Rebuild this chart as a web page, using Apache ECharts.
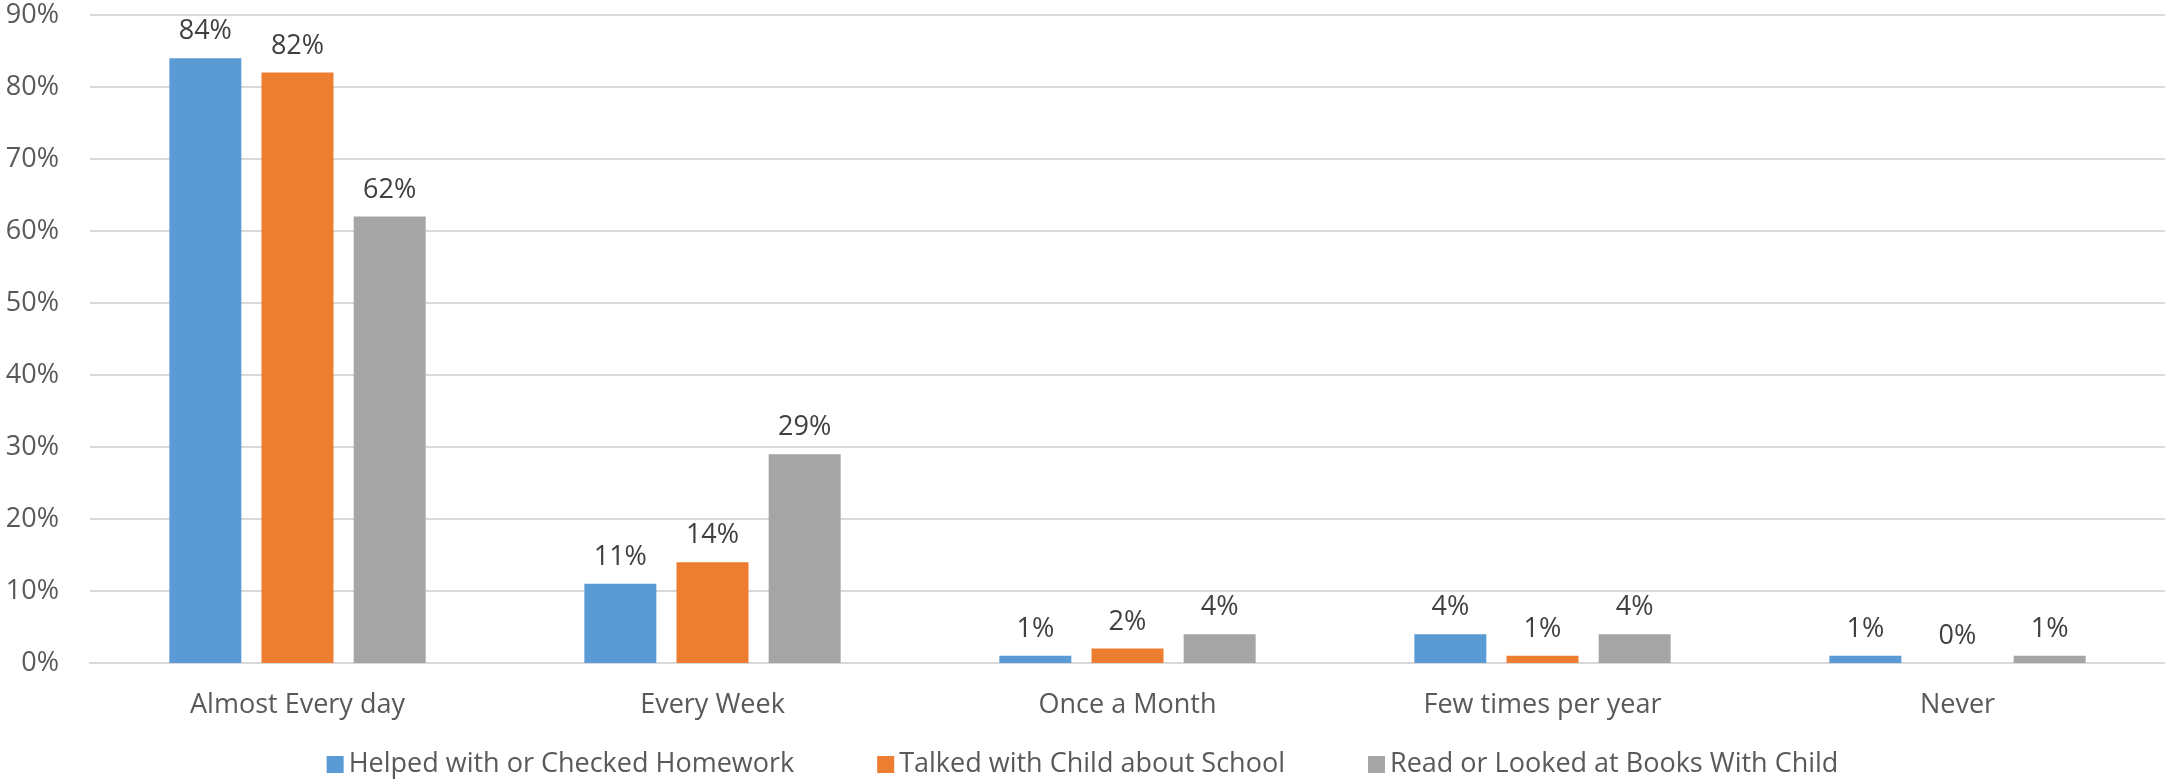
<!DOCTYPE html>
<html>
<head>
<meta charset="utf-8">
<script src="https://cdn.jsdelivr.net/npm/echarts@6/dist/echarts.min.js"></script>
<style>
  html, body { margin: 0; padding: 0; background: #fff; }
  #main { width: 2165px; height: 783px; }
</style>
</head>
<body>
<div id="main"></div>
<script>
"use strict";

// categories on the x axis
const categories = ['Almost Every day', 'Every Week', 'Once a Month', 'Few times per year', 'Never'];

// series names
const seriesNames = [
    'Helped with or Checked Homework',
    'Talked with Child about School',
    'Read or Looked at Books With Child'
];

// values in percent
const homework = [84, 11, 1, 4, 1];
const talked = [82, 14, 2, 1, 0];
const books = [62, 29, 4, 4, 1];

const colors = ['#5B9BD5', '#ED7D31', '#A5A5A5'];

const font = '"Open Sans", sans-serif';
const fontSize = 27;

const chart = echarts.init(document.getElementById('main'));

const makeSeries = (name, data, color) => ({
    name: name,
    type: 'bar',
    data: data,
    barWidth: 72,
    barGap: '28%',
    itemStyle: { color: color },
    label: {
        show: true,
        position: 'top',
        distance: 13,
        formatter: '{c}%',
        color: '#404040',
        fontFamily: font,
        fontSize: fontSize
    }
});

const option = {
    animation: false,
    grid: {
        left: 90,
        right: 0,
        top: 15,
        bottom: 120,
        containLabel: false
    },
    legend: {
        top: 746,
        left: 'center',
        itemWidth: 17,
        itemHeight: 17,
        itemGap: 83,
        icon: 'rect',
        textStyle: {
            color: '#595959',
            fontFamily: font,
            fontSize: fontSize
        },
        data: seriesNames
    },
    xAxis: {
        type: 'category',
        data: categories,
        axisLine: { show: true, lineStyle: { color: '#d9d9d9', width: 2 } },
        axisTick: { show: false },
        axisLabel: {
            color: '#595959',
            fontFamily: font,
            fontSize: fontSize,
            margin: 29
        }
    },
    yAxis: {
        type: 'value',
        min: 0,
        max: 90,
        interval: 10,
        axisLine: { show: false },
        axisTick: { show: false },
        splitLine: { lineStyle: { color: '#d9d9d9', width: 2 } },
        axisLabel: {
            color: '#595959',
            fontFamily: font,
            fontSize: fontSize,
            margin: 31,
            formatter: '{value}%'
        }
    },
    series: [
        makeSeries(seriesNames[0], homework, colors[0]),
        makeSeries(seriesNames[1], talked, colors[1]),
        makeSeries(seriesNames[2], books, colors[2])
    ]
};

chart.setOption(option);
</script>
</body>
</html>
